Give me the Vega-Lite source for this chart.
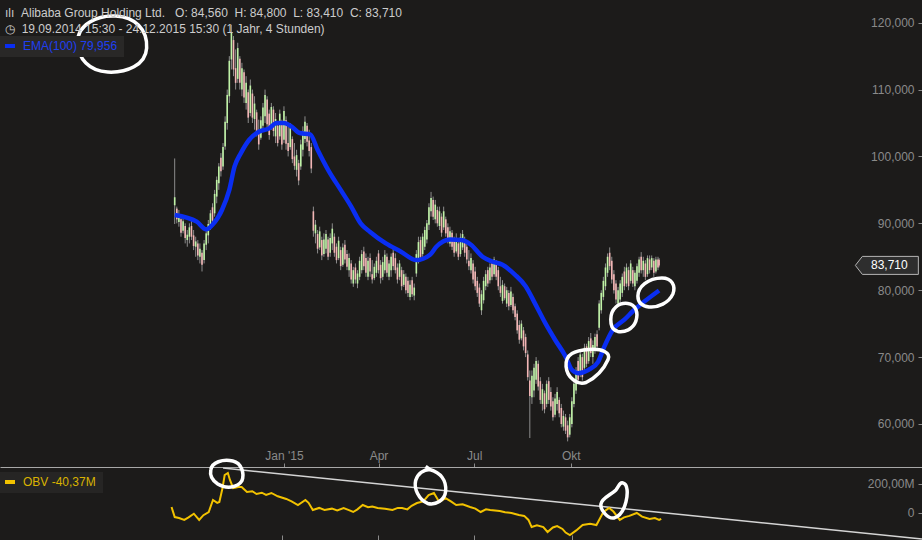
{
"$schema": "https://vega.github.io/schema/vega-lite/v6.json",
"background": "#1c1b1a",
"padding": 0,
"spacing": 0,
"bounds": "flush",
"config": {
  "view": {"stroke": null},
  "font": "Liberation Sans",
  "axis": {"grid": false, "domain": false, "labelFont": "Liberation Sans", "labelFontSize": 12, "labelColor": "#8a8a8a", "tickColor": "#8a8a8a", "labelOverlap": false, "labelFlush": false}
},
"resolve": {"scale": {"y": "independent", "color": "independent", "shape": "independent"}, "legend": {"color": "independent"}},
"datasets": {
  "candles": [
{"d":"2014-09-19","o":92.7,"h":99.7,"l":89.9,"c":93.9},
{"d":"2014-09-21","o":92.2,"h":92.5,"l":90,"c":90.6},
{"d":"2014-09-23","o":90.2,"h":92,"l":89.5,"c":91.4},
{"d":"2014-09-25","o":90.6,"h":91,"l":88,"c":88.6},
{"d":"2014-09-27","o":88.9,"h":91,"l":88.5,"c":90.3},
{"d":"2014-09-29","o":89.6,"h":90,"l":87,"c":87.8},
{"d":"2014-10-01","o":87.5,"h":89,"l":86.5,"c":88.3},
{"d":"2014-10-03","o":88,"h":90,"l":87,"c":89.4},
{"d":"2014-10-05","o":89.6,"h":90.5,"l":87.5,"c":88},
{"d":"2014-10-07","o":88.2,"h":89,"l":86,"c":86.6},
{"d":"2014-10-09","o":86.5,"h":88,"l":85,"c":87.3},
{"d":"2014-10-11","o":87,"h":87.5,"l":84.5,"c":85.2},
{"d":"2014-10-13","o":85,"h":87,"l":84,"c":86.2},
{"d":"2014-10-15","o":85.6,"h":86,"l":82.8,"c":83.8},
{"d":"2014-10-17","o":84.5,"h":87.5,"l":84,"c":87},
{"d":"2014-10-19","o":86.8,"h":89,"l":86,"c":88.5},
{"d":"2014-10-21","o":88.2,"h":90.5,"l":87,"c":89.9},
{"d":"2014-10-23","o":89.6,"h":92,"l":89,"c":91.5},
{"d":"2014-10-25","o":92.4,"h":93,"l":89.5,"c":90.4},
{"d":"2014-10-27","o":91.5,"h":95,"l":91,"c":94.4},
{"d":"2014-10-29","o":94,"h":97,"l":93,"c":96.5},
{"d":"2014-10-31","o":96,"h":99,"l":95,"c":98.5},
{"d":"2014-11-02","o":99.8,"h":100.5,"l":97,"c":97.8},
{"d":"2014-11-04","o":98.5,"h":102,"l":98,"c":101.4},
{"d":"2014-11-06","o":101.5,"h":106,"l":101,"c":105.2},
{"d":"2014-11-08","o":105,"h":110,"l":104,"c":109.2},
{"d":"2014-11-10","o":109,"h":115,"l":108,"c":114.3},
{"d":"2014-11-12","o":114.5,"h":119.7,"l":113,"c":118.6},
{"d":"2014-11-14","o":117.4,"h":118,"l":112,"c":113},
{"d":"2014-11-16","o":113.2,"h":116,"l":110,"c":111},
{"d":"2014-11-18","o":111.6,"h":117,"l":111,"c":116.2},
{"d":"2014-11-20","o":114.6,"h":115,"l":110,"c":111},
{"d":"2014-11-22","o":110,"h":114,"l":109,"c":113.2},
{"d":"2014-11-24","o":112.6,"h":113,"l":108,"c":108.8},
{"d":"2014-11-26","o":108,"h":112,"l":107,"c":111},
{"d":"2014-11-28","o":109.6,"h":110,"l":105,"c":105.8},
{"d":"2014-11-30","o":106.5,"h":111.5,"l":106,"c":110.6},
{"d":"2014-12-02","o":109.4,"h":110,"l":105,"c":105.8},
{"d":"2014-12-04","o":105.6,"h":109,"l":104,"c":107.9},
{"d":"2014-12-06","o":106.6,"h":107,"l":103,"c":103.6},
{"d":"2014-12-08","o":103.8,"h":105.5,"l":101,"c":101.8},
{"d":"2014-12-10","o":102.8,"h":106,"l":102.5,"c":105.4},
{"d":"2014-12-12","o":104.6,"h":108,"l":104,"c":107.3},
{"d":"2014-12-14","o":106,"h":110,"l":105,"c":109.2},
{"d":"2014-12-16","o":108.5,"h":109,"l":104,"c":104.8},
{"d":"2014-12-18","o":106.4,"h":107,"l":102.5,"c":103.2},
{"d":"2014-12-20","o":104.4,"h":108,"l":104,"c":107.4},
{"d":"2014-12-22","o":107,"h":107.5,"l":103,"c":103.8},
{"d":"2014-12-24","o":103,"h":106.5,"l":102,"c":105.6},
{"d":"2014-12-26","o":104.6,"h":105,"l":101.5,"c":102},
{"d":"2014-12-28","o":103,"h":107,"l":102.5,"c":106.4},
{"d":"2014-12-30","o":105,"h":105.5,"l":101,"c":101.8},
{"d":"2015-01-01","o":102.5,"h":107.5,"l":102,"c":106.8},
{"d":"2015-01-03","o":105.4,"h":106,"l":101,"c":101.9},
{"d":"2015-01-05","o":102,"h":104.5,"l":100,"c":100.8},
{"d":"2015-01-07","o":101.4,"h":105,"l":101,"c":104.2},
{"d":"2015-01-09","o":102.6,"h":103,"l":99,"c":99.6},
{"d":"2015-01-11","o":100,"h":102,"l":98,"c":98.6},
{"d":"2015-01-13","o":98,"h":101,"l":97,"c":100.2},
{"d":"2015-01-15","o":99,"h":99.5,"l":95.7,"c":96.4},
{"d":"2015-01-17","o":98.5,"h":102.5,"l":98,"c":101.8},
{"d":"2015-01-19","o":101,"h":104.5,"l":100,"c":103.8},
{"d":"2015-01-21","o":102.6,"h":106,"l":102,"c":105.2},
{"d":"2015-01-23","o":104.6,"h":105,"l":101.5,"c":102.2},
{"d":"2015-01-25","o":102.4,"h":104,"l":100,"c":100.8},
{"d":"2015-01-27","o":101.4,"h":102,"l":97.5,"c":98.2},
{"d":"2015-01-29","o":91.8,"h":92.5,"l":88,"c":88.9},
{"d":"2015-01-31","o":88.5,"h":90.5,"l":87,"c":89.8},
{"d":"2015-02-02","o":88.4,"h":89,"l":85.5,"c":86.2},
{"d":"2015-02-04","o":86.4,"h":89.5,"l":86,"c":88.8},
{"d":"2015-02-06","o":87.5,"h":88,"l":84.5,"c":85.2},
{"d":"2015-02-08","o":85.4,"h":88.5,"l":85,"c":87.6},
{"d":"2015-02-10","o":86.2,"h":89,"l":85.5,"c":88.4},
{"d":"2015-02-12","o":87.6,"h":88,"l":84.5,"c":85},
{"d":"2015-02-14","o":85.6,"h":88.5,"l":85,"c":87.8},
{"d":"2015-02-16","o":87,"h":90,"l":86,"c":89.2},
{"d":"2015-02-18","o":88,"h":88.5,"l":85,"c":85.6},
{"d":"2015-02-20","o":86.5,"h":87,"l":84,"c":84.5},
{"d":"2015-02-22","o":84.8,"h":88,"l":84.5,"c":87.4},
{"d":"2015-02-24","o":86,"h":86.5,"l":83,"c":83.6},
{"d":"2015-02-26","o":83.8,"h":87,"l":83.5,"c":86.4},
{"d":"2015-02-28","o":86.8,"h":87.5,"l":84,"c":84.6},
{"d":"2015-03-02","o":85.4,"h":86,"l":83,"c":83.5},
{"d":"2015-03-04","o":83,"h":85.5,"l":82,"c":84.8},
{"d":"2015-03-06","o":84,"h":84.5,"l":81,"c":81.6},
{"d":"2015-03-08","o":81,"h":83.5,"l":80.5,"c":83},
{"d":"2015-03-10","o":83.4,"h":84,"l":81,"c":81.6},
{"d":"2015-03-12","o":81,"h":83,"l":80.3,"c":82.5},
{"d":"2015-03-14","o":82,"h":85,"l":81.5,"c":84.4},
{"d":"2015-03-16","o":83,"h":86,"l":82.5,"c":85.4},
{"d":"2015-03-18","o":85.8,"h":86.5,"l":83,"c":83.6},
{"d":"2015-03-20","o":84.8,"h":85.5,"l":82,"c":82.6},
{"d":"2015-03-22","o":82,"h":85,"l":81.5,"c":84.4},
{"d":"2015-03-24","o":84.8,"h":85.5,"l":82,"c":82.8},
{"d":"2015-03-26","o":82.4,"h":84.5,"l":81,"c":81.6},
{"d":"2015-03-28","o":81.8,"h":84,"l":81.5,"c":83.5},
{"d":"2015-03-30","o":82.6,"h":85,"l":82,"c":84.4},
{"d":"2015-04-01","o":85.5,"h":86,"l":82.5,"c":83},
{"d":"2015-04-03","o":83.8,"h":84.5,"l":81,"c":81.8},
{"d":"2015-04-05","o":82,"h":85,"l":81.5,"c":84.2},
{"d":"2015-04-07","o":83,"h":86,"l":82.5,"c":85.3},
{"d":"2015-04-09","o":85,"h":85.5,"l":82,"c":82.6},
{"d":"2015-04-11","o":82,"h":84.5,"l":81.5,"c":84},
{"d":"2015-04-13","o":83,"h":85.5,"l":82,"c":85},
{"d":"2015-04-15","o":85.6,"h":86.5,"l":83,"c":83.6},
{"d":"2015-04-17","o":84.8,"h":85.5,"l":82.5,"c":83},
{"d":"2015-04-19","o":83.4,"h":84,"l":81,"c":81.6},
{"d":"2015-04-21","o":82,"h":84.5,"l":81.5,"c":84},
{"d":"2015-04-23","o":83,"h":83.5,"l":80,"c":80.6},
{"d":"2015-04-25","o":80.8,"h":83,"l":80.5,"c":82.4},
{"d":"2015-04-27","o":82,"h":82.5,"l":79.5,"c":80},
{"d":"2015-04-29","o":81.4,"h":82,"l":79,"c":79.6},
{"d":"2015-05-01","o":79,"h":81.5,"l":78.5,"c":80.8},
{"d":"2015-05-03","o":81.5,"h":82,"l":79,"c":79.4},
{"d":"2015-05-05","o":79.2,"h":81,"l":78.5,"c":80.4},
{"d":"2015-05-07","o":82.5,"h":86,"l":82,"c":85.4},
{"d":"2015-05-09","o":84.6,"h":88,"l":84,"c":87.2},
{"d":"2015-05-11","o":87.5,"h":88,"l":84.5,"c":85},
{"d":"2015-05-13","o":85.4,"h":88.5,"l":85,"c":88},
{"d":"2015-05-15","o":86.5,"h":89.5,"l":86,"c":89},
{"d":"2015-05-17","o":87.6,"h":90.5,"l":87,"c":90},
{"d":"2015-05-19","o":89.8,"h":93,"l":89,"c":92.4},
{"d":"2015-05-21","o":91.8,"h":94.7,"l":91,"c":93.8},
{"d":"2015-05-23","o":93.5,"h":94,"l":90.5,"c":91},
{"d":"2015-05-25","o":90.6,"h":93.5,"l":90,"c":92.8},
{"d":"2015-05-27","o":92,"h":92.5,"l":89.5,"c":90},
{"d":"2015-05-29","o":89.6,"h":92.5,"l":89,"c":91.8},
{"d":"2015-05-31","o":91,"h":91.5,"l":88,"c":88.6},
{"d":"2015-06-02","o":89.4,"h":92.5,"l":89,"c":91.8},
{"d":"2015-06-04","o":90.6,"h":91,"l":88,"c":88.5},
{"d":"2015-06-06","o":89.4,"h":90,"l":87,"c":87.6},
{"d":"2015-06-08","o":87,"h":89.5,"l":86.5,"c":88.8},
{"d":"2015-06-10","o":88.6,"h":89,"l":86,"c":86.5},
{"d":"2015-06-12","o":87.4,"h":88,"l":85,"c":85.6},
{"d":"2015-06-14","o":85.8,"h":88.5,"l":85.5,"c":87.8},
{"d":"2015-06-16","o":87,"h":87.5,"l":84.5,"c":85},
{"d":"2015-06-18","o":85.4,"h":88.5,"l":85,"c":87.9},
{"d":"2015-06-20","o":86.4,"h":89,"l":86,"c":88.4},
{"d":"2015-06-22","o":87.6,"h":88,"l":85,"c":85.6},
{"d":"2015-06-24","o":86.5,"h":87,"l":84,"c":84.6},
{"d":"2015-06-26","o":84.4,"h":86,"l":83,"c":83.6},
{"d":"2015-06-28","o":83,"h":85.5,"l":82.5,"c":84.8},
{"d":"2015-06-30","o":84,"h":84.5,"l":81,"c":81.6},
{"d":"2015-07-02","o":82.8,"h":83.5,"l":80,"c":80.6},
{"d":"2015-07-04","o":81.4,"h":82,"l":79,"c":79.6},
{"d":"2015-07-06","o":80.4,"h":81,"l":77.5,"c":78},
{"d":"2015-07-08","o":77,"h":80,"l":76.3,"c":79.4},
{"d":"2015-07-10","o":78.5,"h":82,"l":78,"c":81.4},
{"d":"2015-07-12","o":80.6,"h":83,"l":80,"c":82.4},
{"d":"2015-07-14","o":83,"h":83.5,"l":80.5,"c":81},
{"d":"2015-07-16","o":81.5,"h":84,"l":81,"c":83.4},
{"d":"2015-07-18","o":84,"h":84.5,"l":81.5,"c":82},
{"d":"2015-07-20","o":82.4,"h":85,"l":82,"c":84.6},
{"d":"2015-07-22","o":84,"h":84.5,"l":81.5,"c":82},
{"d":"2015-07-24","o":83,"h":83.5,"l":80,"c":80.6},
{"d":"2015-07-26","o":80.6,"h":82,"l":79,"c":79.6},
{"d":"2015-07-28","o":78.4,"h":81.5,"l":78,"c":80.8},
{"d":"2015-07-30","o":80.6,"h":81,"l":78.5,"c":78.8},
{"d":"2015-08-01","o":78,"h":80.5,"l":77.5,"c":80},
{"d":"2015-08-03","o":79.6,"h":80,"l":77,"c":77.6},
{"d":"2015-08-05","o":77.8,"h":80.5,"l":77.5,"c":79.8},
{"d":"2015-08-07","o":79,"h":79.5,"l":76.5,"c":77},
{"d":"2015-08-09","o":77.6,"h":78,"l":75.5,"c":76},
{"d":"2015-08-11","o":76.5,"h":77,"l":73.5,"c":74},
{"d":"2015-08-13","o":74.8,"h":75.5,"l":72,"c":72.6},
{"d":"2015-08-15","o":72.8,"h":75.5,"l":72.5,"c":75},
{"d":"2015-08-17","o":74,"h":74.5,"l":71,"c":71.6},
{"d":"2015-08-19","o":73,"h":73.5,"l":70,"c":70.6},
{"d":"2015-08-21","o":70.4,"h":71,"l":66.5,"c":67},
{"d":"2015-08-23","o":66.5,"h":68,"l":57.9,"c":64.2},
{"d":"2015-08-25","o":64,"h":68,"l":63,"c":67.2},
{"d":"2015-08-27","o":65,"h":69,"l":64,"c":68.4},
{"d":"2015-08-29","o":66.6,"h":70,"l":66,"c":69.4},
{"d":"2015-08-31","o":69,"h":69.5,"l":65,"c":65.6},
{"d":"2015-09-02","o":66.4,"h":67,"l":63,"c":63.6},
{"d":"2015-09-04","o":63,"h":66,"l":62,"c":65.2},
{"d":"2015-09-06","o":64.6,"h":65,"l":61.6,"c":62.2},
{"d":"2015-09-08","o":63,"h":66.5,"l":62.5,"c":66},
{"d":"2015-09-10","o":66.4,"h":67,"l":63,"c":63.6},
{"d":"2015-09-12","o":64.8,"h":65.5,"l":62,"c":62.6},
{"d":"2015-09-14","o":63.4,"h":64,"l":60.5,"c":61},
{"d":"2015-09-16","o":61.4,"h":64.5,"l":61,"c":63.8},
{"d":"2015-09-18","o":63,"h":65.5,"l":62,"c":64.8},
{"d":"2015-09-20","o":63.6,"h":64,"l":61,"c":61.6},
{"d":"2015-09-22","o":62.4,"h":63,"l":59.5,"c":60},
{"d":"2015-09-24","o":59.6,"h":62,"l":59,"c":61.2},
{"d":"2015-09-26","o":61,"h":61.5,"l":58.5,"c":59},
{"d":"2015-09-28","o":59.8,"h":60.5,"l":57.4,"c":58},
{"d":"2015-09-30","o":58.4,"h":61.5,"l":58,"c":61},
{"d":"2015-10-02","o":60,"h":64,"l":59.5,"c":63.4},
{"d":"2015-10-04","o":63,"h":66.5,"l":62.5,"c":66},
{"d":"2015-10-06","o":65,"h":68.5,"l":64.5,"c":68},
{"d":"2015-10-08","o":69.4,"h":70,"l":66,"c":66.6},
{"d":"2015-10-10","o":67.4,"h":71,"l":67,"c":70.4},
{"d":"2015-10-12","o":70,"h":70.5,"l":66.5,"c":67},
{"d":"2015-10-14","o":68.4,"h":72,"l":68,"c":71.4},
{"d":"2015-10-16","o":71.6,"h":72,"l":68.5,"c":69},
{"d":"2015-10-18","o":69.4,"h":73,"l":69,"c":72.4},
{"d":"2015-10-20","o":72.8,"h":73.6,"l":70,"c":70.6},
{"d":"2015-10-22","o":70,"h":72.5,"l":69,"c":71.8},
{"d":"2015-10-24","o":71,"h":73.5,"l":70.5,"c":73},
{"d":"2015-10-26","o":73.4,"h":74,"l":71,"c":71.6},
{"d":"2015-10-28","o":74.4,"h":78.5,"l":74,"c":78},
{"d":"2015-10-30","o":77,"h":80,"l":76.5,"c":79.6},
{"d":"2015-11-01","o":79,"h":82,"l":78.5,"c":81.4},
{"d":"2015-11-03","o":80.6,"h":84,"l":80,"c":83.4},
{"d":"2015-11-05","o":82.6,"h":85.5,"l":82,"c":85},
{"d":"2015-11-07","o":85.6,"h":86.4,"l":83,"c":83.6},
{"d":"2015-11-09","o":84.4,"h":85,"l":81,"c":81.6},
{"d":"2015-11-11","o":82.4,"h":83,"l":79.5,"c":80},
{"d":"2015-11-13","o":81,"h":81.5,"l":78,"c":78.6},
{"d":"2015-11-15","o":78,"h":80.5,"l":77.5,"c":80},
{"d":"2015-11-17","o":78.6,"h":81.5,"l":78,"c":81},
{"d":"2015-11-19","o":79.6,"h":82.5,"l":79,"c":82},
{"d":"2015-11-21","o":82.8,"h":83.5,"l":80,"c":80.6},
{"d":"2015-11-23","o":81,"h":84,"l":80.5,"c":83.4},
{"d":"2015-11-25","o":83,"h":83.5,"l":80,"c":80.6},
{"d":"2015-11-27","o":81.4,"h":84.5,"l":81,"c":84},
{"d":"2015-11-29","o":83,"h":83.5,"l":80.5,"c":81},
{"d":"2015-12-01","o":80.6,"h":83,"l":80,"c":82.6},
{"d":"2015-12-03","o":81.4,"h":84,"l":81,"c":83.6},
{"d":"2015-12-05","o":82.6,"h":85,"l":82,"c":84.6},
{"d":"2015-12-07","o":85,"h":85.7,"l":82.5,"c":83},
{"d":"2015-12-09","o":83,"h":85,"l":82,"c":84.4},
{"d":"2015-12-11","o":84,"h":84.5,"l":81.5,"c":82},
{"d":"2015-12-13","o":82.4,"h":85.2,"l":82,"c":84.8},
{"d":"2015-12-15","o":84.6,"h":85.2,"l":82.5,"c":83},
{"d":"2015-12-17","o":83.4,"h":85.2,"l":83,"c":84.8},
{"d":"2015-12-19","o":84.4,"h":84.8,"l":82,"c":82.6},
{"d":"2015-12-21","o":82.8,"h":85,"l":82.5,"c":84.6},
{"d":"2015-12-23","o":84.6,"h":85,"l":83,"c":83.4},
{"d":"2015-12-24","o":84.56,"h":84.8,"l":83.41,"c":83.71}
  ],
  "ema": [
{"d":"2014-09-19","e":91.25},{"d":"2014-10-10","e":90.25},{"d":"2014-10-19","e":89.1},{"d":"2014-10-25","e":89.8},
{"d":"2014-11-03","e":92.0},{"d":"2014-11-10","e":95.0},{"d":"2014-11-15","e":98.5},{"d":"2014-11-21","e":100.5},
{"d":"2014-11-29","e":102.5},{"d":"2014-12-08","e":103.7},{"d":"2014-12-18","e":104.2},{"d":"2014-12-25","e":105.0},
{"d":"2015-01-01","e":105.0},{"d":"2015-01-08","e":104.5},{"d":"2015-01-16","e":103.5},{"d":"2015-01-26","e":103.3},
{"d":"2015-02-02","e":101.0},{"d":"2015-02-12","e":98.0},{"d":"2015-02-24","e":95.0},{"d":"2015-03-06","e":92.5},
{"d":"2015-03-15","e":90.0},{"d":"2015-03-24","e":88.7},{"d":"2015-04-08","e":87.0},{"d":"2015-04-22","e":85.8},
{"d":"2015-05-07","e":84.5},{"d":"2015-05-20","e":85.3},{"d":"2015-05-26","e":86.5},{"d":"2015-06-08","e":87.6},
{"d":"2015-06-19","e":87.5},{"d":"2015-06-28","e":86.8},{"d":"2015-07-09","e":85.0},{"d":"2015-07-18","e":84.3},
{"d":"2015-07-28","e":83.8},{"d":"2015-08-09","e":82.3},{"d":"2015-08-19","e":80.6},{"d":"2015-08-28","e":78.0},
{"d":"2015-09-07","e":75.0},{"d":"2015-09-16","e":72.6},{"d":"2015-09-26","e":70.1},{"d":"2015-10-02","e":68.1},
{"d":"2015-10-08","e":67.6},{"d":"2015-10-18","e":68.1},{"d":"2015-10-27","e":69.3},{"d":"2015-11-02","e":71.6},
{"d":"2015-11-10","e":74.1},{"d":"2015-11-21","e":75.6},{"d":"2015-11-30","e":77.0},{"d":"2015-12-10","e":78.3},
{"d":"2015-12-24","e":79.956}
  ],
  "obv": [
{"d":"2014-09-19","v":41},{"d":"2014-09-22","v":-28},{"d":"2014-09-26","v":-35},{"d":"2014-10-01","v":-48},
{"d":"2014-10-05","v":-30},{"d":"2014-10-10","v":-5},{"d":"2014-10-15","v":-48},{"d":"2014-10-19","v":-15},
{"d":"2014-10-24","v":7},{"d":"2014-10-28","v":90},{"d":"2014-11-01","v":70},{"d":"2014-11-03","v":76},
{"d":"2014-11-06","v":172},{"d":"2014-11-08","v":262},{"d":"2014-11-11","v":276},{"d":"2014-11-13","v":228},
{"d":"2014-11-16","v":172},{"d":"2014-11-21","v":179},{"d":"2014-11-24","v":179},{"d":"2014-11-29","v":145},
{"d":"2014-12-04","v":150},{"d":"2014-12-08","v":131},{"d":"2014-12-13","v":140},{"d":"2014-12-17","v":125},
{"d":"2014-12-22","v":138},{"d":"2014-12-28","v":115},{"d":"2015-01-05","v":97},{"d":"2015-01-10","v":80},
{"d":"2015-01-16","v":55},{"d":"2015-01-23","v":90},{"d":"2015-01-26","v":70},{"d":"2015-01-30","v":21},
{"d":"2015-02-05","v":35},{"d":"2015-02-10","v":21},{"d":"2015-02-17","v":30},{"d":"2015-02-22","v":18},
{"d":"2015-02-28","v":34},{"d":"2015-03-05","v":20},{"d":"2015-03-09","v":7},{"d":"2015-03-13","v":25},
{"d":"2015-03-18","v":55},{"d":"2015-03-23","v":40},{"d":"2015-03-27","v":45},{"d":"2015-04-01","v":34},
{"d":"2015-04-08","v":30},{"d":"2015-04-15","v":21},{"d":"2015-04-20","v":35},{"d":"2015-04-24","v":34},
{"d":"2015-04-29","v":25},{"d":"2015-05-03","v":50},{"d":"2015-05-08","v":69},{"d":"2015-05-14","v":80},
{"d":"2015-05-19","v":124},{"d":"2015-05-24","v":138},{"d":"2015-05-29","v":76},{"d":"2015-06-04","v":103},
{"d":"2015-06-09","v":80},{"d":"2015-06-14","v":55},{"d":"2015-06-20","v":60},{"d":"2015-06-27","v":41},
{"d":"2015-07-02","v":30},{"d":"2015-07-07","v":7},{"d":"2015-07-12","v":25},{"d":"2015-07-16","v":21},
{"d":"2015-07-25","v":14},{"d":"2015-07-30","v":5},{"d":"2015-08-05","v":0},{"d":"2015-08-12","v":-14},
{"d":"2015-08-17","v":-20},{"d":"2015-08-21","v":-48},{"d":"2015-08-24","v":-97},{"d":"2015-08-29","v":-85},
{"d":"2015-09-04","v":-97},{"d":"2015-09-08","v":-131},{"d":"2015-09-13","v":-100},{"d":"2015-09-17","v":-90},
{"d":"2015-09-22","v":-110},{"d":"2015-09-25","v":-135},{"d":"2015-09-29","v":-152},{"d":"2015-10-05","v":-120},
{"d":"2015-10-11","v":-83},{"d":"2015-10-18","v":-75},{"d":"2015-10-24","v":-83},{"d":"2015-10-30","v":0},
{"d":"2015-11-02","v":20},{"d":"2015-11-05","v":35},{"d":"2015-11-09","v":10},{"d":"2015-11-15","v":-48},
{"d":"2015-11-19","v":-30},{"d":"2015-11-24","v":-20},{"d":"2015-12-01","v":0},{"d":"2015-12-06","v":-25},
{"d":"2015-12-13","v":-41},{"d":"2015-12-18","v":-35},{"d":"2015-12-22","v":-48},{"d":"2015-12-24","v":-40.37}
  ],
  "trend": [{"d":"2014-11-06T12:00:00Z","v":310},{"d":"2016-08-25T12:00:00Z","v":-179}],
  "notesPrice": [
{"id":"c1","d":"2014-07-21","v":116.8},
{"id":"c2","d":"2015-10-16T12:00:00Z","v":68.75},
{"id":"c3","d":"2015-11-20T10:00:00Z","v":75.93},
{"id":"c4","d":"2015-12-21","v":79.6}
  ],
  "notesObv": [
{"id":"c5","d":"2014-11-10","v":269},
{"id":"c6","d":"2015-05-20","v":183},
{"id":"c7","d":"2015-11-09T12:00:00Z","v":90}
  ]
},
"vconcat": [
{
  "width": 922,
  "height": 467,
  "title": {
    "text": "ılı\u00a0\u00a0Alibaba Group Holding Ltd.\u00a0\u00a0\u00a0O: 84,560\u00a0\u00a0H: 84,800\u00a0\u00a0L: 83,410\u00a0\u00a0C: 83,710",
    "subtitle": "◷\u00a0\u00a019.09.2014 15:30 - 24.12.2015 15:30 (1 Jahr, 4 Stunden)",
    "anchor": "start", "frame": "group", "offset": -36, "dx": 5,
    "font": "Liberation Sans", "fontSize": 12, "fontWeight": "normal", "color": "#cccccc",
    "subtitleFont": "Liberation Sans", "subtitleFontSize": 12, "subtitleColor": "#cccccc", "subtitlePadding": 4
  },
  "layer": [
    {
      "data": {"name": "candles"},
      "mark": {"type": "rule", "color": "#8c8c8c", "strokeWidth": 1},
      "encoding": {
        "x": {"field": "d", "type": "temporal",
              "scale": {"type": "utc", "domain": [{"year": 2014, "month": 4, "date": 10, "hours": 12, "utc": true}, {"year": 2016, "month": 8, "date": 25, "hours": 12, "utc": true}]},
              "axis": {"title": null, "values": [{"year": 2015, "month": 1, "date": 1, "utc": true}, {"year": 2015, "month": 4, "date": 1, "utc": true}, {"year": 2015, "month": 7, "date": 1, "utc": true}, {"year": 2015, "month": 10, "date": 1, "utc": true}],
                       "labelExpr": "[\"Jan '15\",\"Apr\",\"Jul\",\"Okt\"][floor(utcmonth(datum.value)/3)]",
                       "domain": true, "domainColor": "#a8a8a8", "domainWidth": 1, "tickSize": -4, "labelPadding": -4, "labelBaseline": "alphabetic", "labelFontSize": 12}},
        "y": {"field": "l", "type": "quantitative",
              "scale": {"domain": [53.57, 123.39], "nice": false, "zero": false},
              "axis": {"title": null, "orient": "right", "values": [60, 70, 80, 90, 100, 110, 120],
                       "labelExpr": "replace(format(datum.value,'.3f'),'.',',')",
                       "tickSize": -4, "labelPadding": -4, "labelAlign": "right"}},
        "y2": {"field": "h"}
      }
    },
    {
      "data": {"name": "candles"},
      "mark": {"type": "bar", "size": 1.6},
      "encoding": {
        "x": {"field": "d", "type": "temporal"},
        "y": {"field": "o", "type": "quantitative"},
        "y2": {"field": "c"},
        "color": {"condition": {"test": "datum.c >= datum.o", "value": "#bff2a6"}, "value": "#f2b5b5"}
      }
    },
    {
      "data": {"name": "ema"},
      "mark": {"type": "line", "strokeWidth": 4.5, "interpolate": "monotone"},
      "encoding": {
        "x": {"field": "d", "type": "temporal"},
        "y": {"field": "e", "type": "quantitative"},
        "color": {"datum": "EMA(100)  79,956", "type": "nominal",
                  "scale": {"range": ["#0a2ef2"]},
                  "legend": {"orient": "none", "legendX": 0, "legendY": 36, "title": null, "fillColor": "#292827",
                             "padding": 3, "labelColor": "#1f3ff2", "labelFont": "Liberation Sans", "labelFontSize": 12,
                             "symbolType": "stroke", "symbolStrokeWidth": 4, "symbolSize": 100, "labelOffset": 6}}
      }
    },
    {
      "data": {"name": "notesPrice"},
      "mark": {"type": "point", "filled": false, "color": "white", "strokeWidth": 3.5, "opacity": 1, "size": 400},
      "encoding": {
        "x": {"field": "d", "type": "temporal"},
        "y": {"field": "v", "type": "quantitative"},
        "shape": {"field": "id", "type": "nominal", "legend": null,
                  "scale": {"domain": ["c1", "c2", "c3", "c4"],
                            "range": [
                              "M -3.4 -0.2 C -3.4 -2 -1.4 -2.9 0.4 -2.8 C 2.3 -2.7 3.6 -1.5 3.5 0.4 C 3.4 2.1 1.5 2.9 -0.4 2.8 C -2.2 2.7 -3.4 1.5 -3.4 -0.2 Z",
                              "M -2.1 0.1 C -2.2 -1.2 -1.2 -1.5 0.2 -1.6 C 1.5 -1.7 2.4 -1.3 2.1 -0.6 C 1.7 0.3 0.9 1.2 -0.1 1.7 C -1 2 -2 1.2 -2.1 0.1 Z",
                              "M -1.3 0.2 C -1.3 -0.9 -0.5 -1.5 0.4 -1.4 C 1.2 -1.3 1.5 -0.5 1.2 0.4 C 0.9 1.2 0.1 1.5 -0.6 1.4 C -1.2 1.2 -1.3 0.8 -1.3 0.2 Z",
                              "M -1.8 0.3 C -1.8 -0.6 -0.8 -1.5 0.6 -1.5 C 1.6 -1.5 2 -0.7 1.7 0.1 C 1.3 1 0.2 1.5 -0.7 1.4 C -1.4 1.3 -1.8 0.9 -1.8 0.3 Z"
                            ]}}
      }
    },
    {
      "data": {"values": [{}]},
      "mark": {"type": "point", "shape": "M -3.1 0 L -2.4 -0.9 L 3.2 -0.9 L 3.2 0.9 L -2.4 0.9 Z", "size": 400, "filled": true, "fill": "#2e2e2e", "stroke": "#b4b4b4", "strokeWidth": 1, "opacity": 1},
      "encoding": {
        "x": {"datum": {"year": 2016, "month": 7, "date": 27, "hours": 8, "utc": true}, "type": "temporal"},
        "y": {"datum": 83.71, "type": "quantitative"}
      }
    },
    {
      "data": {"values": [{}]},
      "mark": {"type": "text", "color": "#ffffff", "font": "Liberation Sans", "fontSize": 12, "align": "center", "baseline": "middle", "dx": 3},
      "encoding": {
        "x": {"datum": {"year": 2016, "month": 7, "date": 27, "hours": 8, "utc": true}, "type": "temporal"},
        "y": {"datum": 83.71, "type": "quantitative"},
        "text": {"value": "83,710"}
      }
    }
  ]
},
{
  "width": 922,
  "height": 73,
  "layer": [
    {
      "data": {"name": "trend"},
      "mark": {"type": "line", "color": "#d4d4d4", "strokeWidth": 1.5},
      "encoding": {
        "x": {"field": "d", "type": "temporal",
              "scale": {"type": "utc", "domain": [{"year": 2014, "month": 4, "date": 10, "hours": 12, "utc": true}, {"year": 2016, "month": 8, "date": 25, "hours": 12, "utc": true}]},
              "axis": {"title": null, "values": [{"year": 2015, "month": 1, "date": 1, "utc": true}, {"year": 2015, "month": 4, "date": 1, "utc": true}, {"year": 2015, "month": 7, "date": 1, "utc": true}, {"year": 2015, "month": 10, "date": 1, "utc": true}],
                       "labels": false, "tickSize": -5, "domain": false}},
        "y": {"field": "v", "type": "quantitative",
              "scale": {"domain": [-186.2, 317.2], "nice": false, "zero": false},
              "axis": {"title": null, "orient": "right", "values": [0, 200],
                       "labelExpr": "datum.value == 0 ? '0' : replace(format(datum.value,'.2f'),'.',',') + 'M'",
                       "tickSize": -4, "labelPadding": -4, "labelAlign": "right"}}
      }
    },
    {
      "data": {"name": "obv"},
      "mark": {"type": "line", "strokeWidth": 2},
      "encoding": {
        "x": {"field": "d", "type": "temporal"},
        "y": {"field": "v", "type": "quantitative"},
        "color": {"datum": "OBV  -40,37M", "type": "nominal",
                  "scale": {"range": ["#f2c200"]},
                  "legend": {"orient": "none", "legendX": 0, "legendY": 5, "title": null, "fillColor": "#262524",
                             "padding": 3, "labelColor": "#d9b300", "labelFont": "Liberation Sans", "labelFontSize": 12,
                             "symbolType": "stroke", "symbolStrokeWidth": 4, "symbolSize": 100, "labelOffset": 6}}
      }
    },
    {
      "data": {"name": "notesObv"},
      "mark": {"type": "point", "filled": false, "color": "white", "strokeWidth": 3.5, "opacity": 1, "size": 400},
      "encoding": {
        "x": {"field": "d", "type": "temporal"},
        "y": {"field": "v", "type": "quantitative"},
        "shape": {"field": "id", "type": "nominal", "legend": null,
                  "scale": {"domain": ["c5", "c6", "c7"],
                            "range": [
                              "M -1.6 -0.4 C -1.5 -1.2 -0.4 -1.5 0.6 -1.3 C 1.5 -1.1 1.8 0 1.5 0.7 C 1.1 1.4 -0.1 1.5 -0.9 1 C -1.5 0.6 -1.7 0.1 -1.6 -0.4 Z",
                              "M -0.4 -2 L 0 -1.7 C 1.1 -1.4 1.7 -0.6 1.6 0.5 C 1.5 1.4 0.6 1.9 -0.2 1.7 C -1.1 1.3 -1.6 0.2 -1.4 -0.6 C -1.2 -1.3 -0.6 -1.7 0 -1.7",
                              "M 0.9 -1.7 C 1.4 -1.6 1.4 -0.6 1.2 0.2 C 1 1 0.7 1.6 0 1.8 C -0.6 1.9 -1.4 1 -1.3 0.4 C -1.2 -0.2 -0.3 -0.5 0.2 -1 C 0.5 -1.4 0.6 -1.8 0.9 -1.7 Z"
                            ]}}
      }
    }
  ]
}
]
}
